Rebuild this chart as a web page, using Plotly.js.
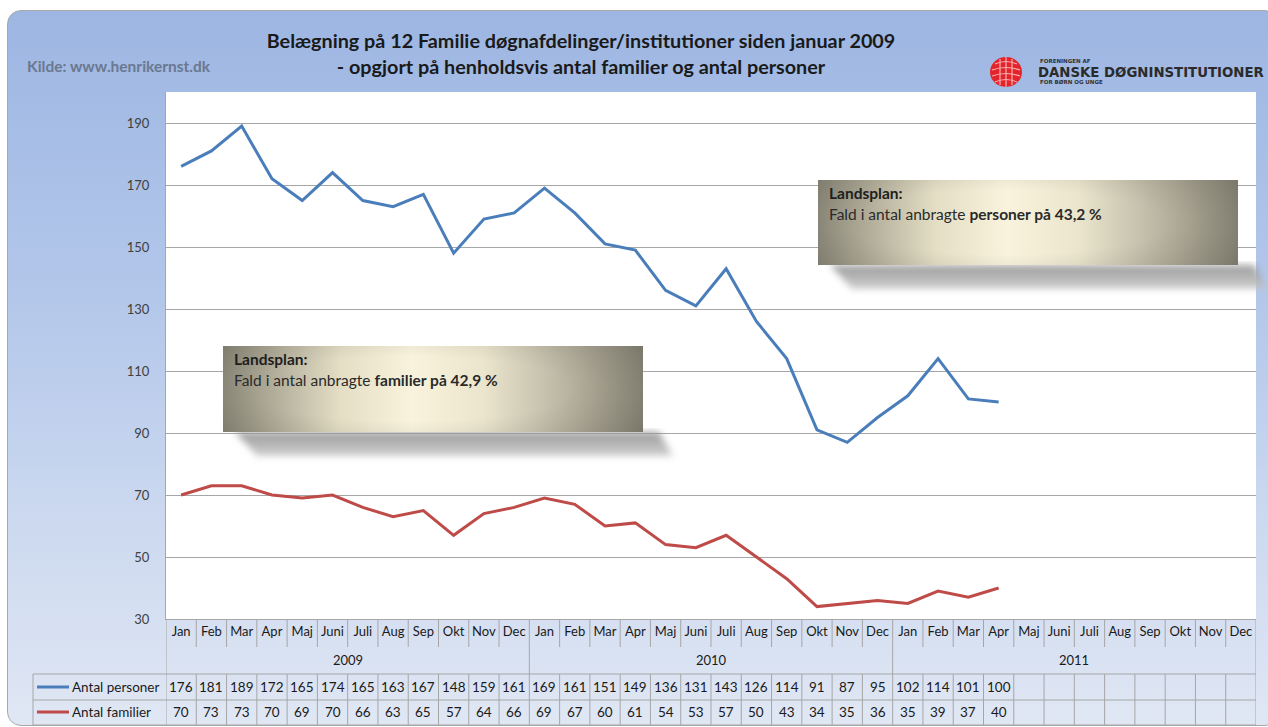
<!DOCTYPE html>
<html>
<head>
<meta charset="utf-8">
<script src="https://cdn.plot.ly/plotly-3.0.1.min.js"></script>
<style>
html,body{margin:0;padding:0;background:#fff;overflow:hidden;width:1268px;height:727px;}
#bg{position:absolute;left:7px;top:10px;width:1270px;height:714px;border:1.5px solid #a8a8a8;border-radius:14px;
background:linear-gradient(to bottom,#9db6e2 0%,#b3c7ea 40%,#cbd8ef 70%,#e0e7f4 100%);}
#chart{position:absolute;left:0;top:0;width:1268px;height:727px;}
</style>
</head>
<body>
<div id="bg"></div>
<div id="chart"></div>
<script>
// ---- data ----
const months = ['Jan','Feb','Mar','Apr','Maj','Juni','Juli','Aug','Sep','Okt','Nov','Dec'];
const years = ['2009','2010','2011'];
const personer = [176,181,189,172,165,174,165,163,167,148,159,161,169,161,151,149,136,131,143,126,114,91,87,95,102,114,101,100];
const familier = [70,73,73,70,69,70,66,63,65,57,64,66,69,67,60,61,54,53,57,50,43,34,35,36,35,39,37,40];
const yTicks = [30,50,70,90,110,130,150,170,190];
const seriesNames = ['Antal personer','Antal familier'];
const seriesColors = ['#4a7ebb','#be4b48'];
const titleText = 'Belægning på 12 Familie døgnafdelinger/institutioner siden januar 2009<br>- opgjort på henholdsvis antal familier og antal personer';
const sourceText = 'Kilde: www.henrikernst.dk';
const noteP = ['Landsplan:', 'Fald i antal anbragte <b>personer på 43,2 %</b>'];
const noteF = ['Landsplan:', 'Fald i antal anbragte <b>familier på 42,9 %</b>'];

// ---- geometry helpers (pixel -> paper) ----
const L = 166, R = 1256, T = 92, B = 619;
const PW = R - L, PH = B - T;
const px = p => (p - L) / PW;
const py = p => (B - p) / PH;

const nCat = months.length * years.length;
const catIdx = Array.from({length: nCat}, (_, i) => i);
const tickText = catIdx.map(i => months[i % months.length]);
const xP = personer.map((_, i) => i);
const xF = familier.map((_, i) => i);

const FONT = 'Lato, "Open Sans", sans-serif';
const TXT = '#1a1a1a';
const GRID = '#a6a6a6';

const traces = [
  {x: xP, y: personer, type: 'scatter', mode: 'lines', name: seriesNames[0],
   line: {color: seriesColors[0], width: 3}, hoverinfo: 'x+y'},
  {x: xF, y: familier, type: 'scatter', mode: 'lines', name: seriesNames[1],
   line: {color: seriesColors[1], width: 3}, hoverinfo: 'x+y'}
];

const shapes = [];
const annotations = [];

// table row boundaries (paper y)
const yMonthEnd = py(647), yYearEnd = py(674), yRow1End = py(700), yRow2End = py(725);
const lineStyle = {color: GRID, width: 1};
// vertical dividers
for (let b = 0; b <= nCat; b++) {
  const xv = b - 0.5;
  const isYear = (b % months.length === 0);
  if (isYear) {
    shapes.push({type: 'line', xref: 'x', yref: 'paper', x0: xv, x1: xv, y0: 0, y1: yRow2End, line: lineStyle});
  } else {
    shapes.push({type: 'line', xref: 'x', yref: 'paper', x0: xv, x1: xv, y0: 0, y1: yMonthEnd, line: lineStyle});
    shapes.push({type: 'line', xref: 'x', yref: 'paper', x0: xv, x1: xv, y0: yYearEnd, y1: yRow2End, line: lineStyle});
  }
}
// header column left edge
shapes.push({type: 'line', xref: 'paper', yref: 'paper', x0: px(33), x1: px(33), y0: yYearEnd, y1: yRow2End, line: lineStyle});
// horizontal lines
[yYearEnd, yRow1End, yRow2End].forEach(yy => {
  shapes.push({type: 'line', xref: 'paper', yref: 'paper', x0: px(33), x1: 1, y0: yy, y1: yy, line: lineStyle});
});
// year labels
years.forEach((yr, k) => {
  annotations.push({xref: 'x', yref: 'paper', x: k * months.length + (months.length - 1) / 2, y: py(660),
    text: yr, showarrow: false, font: {family: FONT, size: 13, color: TXT}, yanchor: 'middle'});
});
// legend keys + values
const rowsY = [py(687), py(712)];
[personer, familier].forEach((arr, r) => {
  shapes.push({type: 'line', xref: 'paper', yref: 'paper', x0: px(37), x1: px(69), y0: rowsY[r], y1: rowsY[r],
    line: {color: seriesColors[r], width: 3}});
  annotations.push({xref: 'paper', yref: 'paper', x: px(70), y: rowsY[r], xanchor: 'left', yanchor: 'middle',
    text: seriesNames[r], showarrow: false, font: {family: FONT, size: 13.5, color: TXT}});
  arr.forEach((v, i) => {
    annotations.push({xref: 'x', yref: 'paper', x: i, y: rowsY[r], text: String(v), showarrow: false,
      yanchor: 'middle', font: {family: FONT, size: 13.5, color: TXT}});
  });
});

// note boxes
const boxSvg = encodeURIComponent(
 "<svg xmlns='http://www.w3.org/2000/svg' width='420' height='86' viewBox='0 0 420 86' preserveAspectRatio='none'>" +
 "<defs><linearGradient id='g' x1='0' y1='0' x2='1' y2='0'>" +
 "<stop offset='0' stop-color='#8c897a'/><stop offset='0.12' stop-color='#b2ad99'/><stop offset='0.28' stop-color='#e4dec5'/>" +
 "<stop offset='0.45' stop-color='#f9f3dd'/><stop offset='0.62' stop-color='#ebe5cd'/><stop offset='0.82' stop-color='#b9b4a1'/>" +
 "<stop offset='1' stop-color='#8a8778'/></linearGradient>" +
 "<radialGradient id='v' cx='0.45' cy='0.5' r='0.75'><stop offset='0.5' stop-color='#000' stop-opacity='0'/><stop offset='1' stop-color='#000' stop-opacity='0.12'/></radialGradient></defs>" +
 "<rect width='420' height='86' fill='url(#g)'/><rect width='420' height='86' fill='url(#v)'/></svg>");
const shadowSvg = encodeURIComponent(
 "<svg xmlns='http://www.w3.org/2000/svg' width='460' height='44' viewBox='0 0 460 44' preserveAspectRatio='none'>" +
 "<defs><filter id='b' x='-10%' y='-50%' width='120%' height='200%'><feGaussianBlur stdDeviation='3.5'/></filter>" +
 "<linearGradient id='s' x1='0' y1='0' x2='0' y2='1'><stop offset='0' stop-color='#8a8a8a'/><stop offset='1' stop-color='#c8c8c8'/></linearGradient></defs>" +
 "<polygon points='8,4 432,4 446,28 30,28' fill='url(#s)' filter='url(#b)' opacity='0.85'/></svg>");
const boxes = [
  {x0: 818, x1: 1238, y0: 180, y1: 265, note: noteP},
  {x0: 223, x1: 643, y0: 346, y1: 432, note: noteF}
];
const images = [];
boxes.forEach(b => {
  images.push({source: 'data:image/svg+xml;charset=utf-8,' + shadowSvg, xref: 'paper', yref: 'paper',
    x: px(b.x0 + 4), y: py(b.y1 - 4), sizex: 460 / PW, sizey: 44 / PH, xanchor: 'left', yanchor: 'top',
    sizing: 'stretch', layer: 'above'});
  images.push({source: 'data:image/svg+xml;charset=utf-8,' + boxSvg, xref: 'paper', yref: 'paper',
    x: px(b.x0), y: py(b.y0), sizex: (b.x1 - b.x0) / PW, sizey: (b.y1 - b.y0) / PH, xanchor: 'left', yanchor: 'top',
    sizing: 'stretch', layer: 'above'});
  annotations.push({xref: 'paper', yref: 'paper', x: px(b.x0 + 9), y: py(b.y0 + 13), xanchor: 'left', yanchor: 'middle',
    text: '<b>' + b.note[0] + '</b>', showarrow: false, font: {family: FONT, size: 15.5, color: '#1e1e1e'}});
  annotations.push({xref: 'paper', yref: 'paper', x: px(b.x0 + 9), y: py(b.y0 + 34), xanchor: 'left', yanchor: 'middle',
    text: b.note[1], showarrow: false, font: {family: FONT, size: 15.5, color: '#2a2a2a'}});
});

// source text
annotations.push({xref: 'paper', yref: 'paper', x: px(25), y: py(66), xanchor: 'left', yanchor: 'middle',
  text: '<b>' + sourceText + '</b>', showarrow: false, font: {family: FONT, size: 15.5, color: '#6a7890'}});

// logo
const logoSvg = encodeURIComponent(
 "<svg xmlns='http://www.w3.org/2000/svg' width='34' height='32' viewBox='0 0 34 32'>" +
 "<ellipse cx='17' cy='16' rx='16' ry='15' fill='#e3242b'/>" +
 "<g stroke='#f7b0b3' stroke-width='1.2' fill='none'>" +
 "<path d='M6 8 Q17 3 28 8'/><path d='M3 14 Q17 9 31 14'/><path d='M3 20 Q17 15 31 20'/><path d='M6 26 Q17 21 28 26'/>" +
 "<path d='M11 3 L11 29'/><path d='M17 1 L17 31'/><path d='M23 3 L23 29'/></g></svg>");
images.push({source: 'data:image/svg+xml;charset=utf-8,' + logoSvg, xref: 'paper', yref: 'paper',
  x: px(989), y: py(56), sizex: 34 / PW, sizey: 32 / PH, xanchor: 'left', yanchor: 'top', sizing: 'stretch', layer: 'above'});
annotations.push({xref: 'paper', yref: 'paper', x: px(1038), y: py(61), xanchor: 'left', yanchor: 'middle',
  text: '<b>FORENINGEN AF</b>', showarrow: false, font: {family: '"DejaVu Sans"', size: 5.5, color: '#333'}});
annotations.push({xref: 'paper', yref: 'paper', x: px(1036), y: py(72.5), xanchor: 'left', yanchor: 'middle',
  text: '<b>DANSKE DØGNINSTITUTIONER</b>', showarrow: false, font: {family: '"DejaVu Sans"', size: 13.3, color: '#2b2b2b'}});
annotations.push({xref: 'paper', yref: 'paper', x: px(1038), y: py(82), xanchor: 'left', yanchor: 'middle',
  text: '<b>FOR BØRN OG UNGE</b>', showarrow: false, font: {family: '"DejaVu Sans"', size: 5.5, color: '#333'}});

const layout = {
  width: 1268, height: 727, autosize: false,
  margin: {l: L, r: 1268 - R, t: T, b: 727 - B, pad: 0},
  paper_bgcolor: 'rgba(0,0,0,0)', plot_bgcolor: '#ffffff',
  showlegend: false,
  title: {text: '<b>' + titleText + '</b>', font: {family: FONT, size: 19.8, color: '#1a1a1a'},
    x: 581 / 1268, xanchor: 'center', xref: 'container', y: 1 - 48 / 727, yanchor: 'middle', yref: 'container'},
  xaxis: {range: [-0.5, nCat - 0.5], tickmode: 'array', tickvals: catIdx, ticktext: tickText,
    showgrid: false, zeroline: false, showline: true, linecolor: GRID, linewidth: 1, ticks: '',
    tickfont: {family: FONT, size: 13, color: TXT}, fixedrange: true},
  yaxis: {range: [30, 200], tickmode: 'array', tickvals: yTicks, showgrid: true, gridcolor: GRID, gridwidth: 1,
    zeroline: false, showline: true, linecolor: GRID, linewidth: 1, ticks: 'outside', ticklen: 13,
    tickcolor: 'rgba(0,0,0,0)', tickfont: {family: FONT, size: 13, color: '#404040'}, fixedrange: true},
  shapes: shapes, annotations: annotations, images: images
};
Plotly.newPlot('chart', traces, layout, {displayModeBar: false, staticPlot: true});
</script>
</body>
</html>
